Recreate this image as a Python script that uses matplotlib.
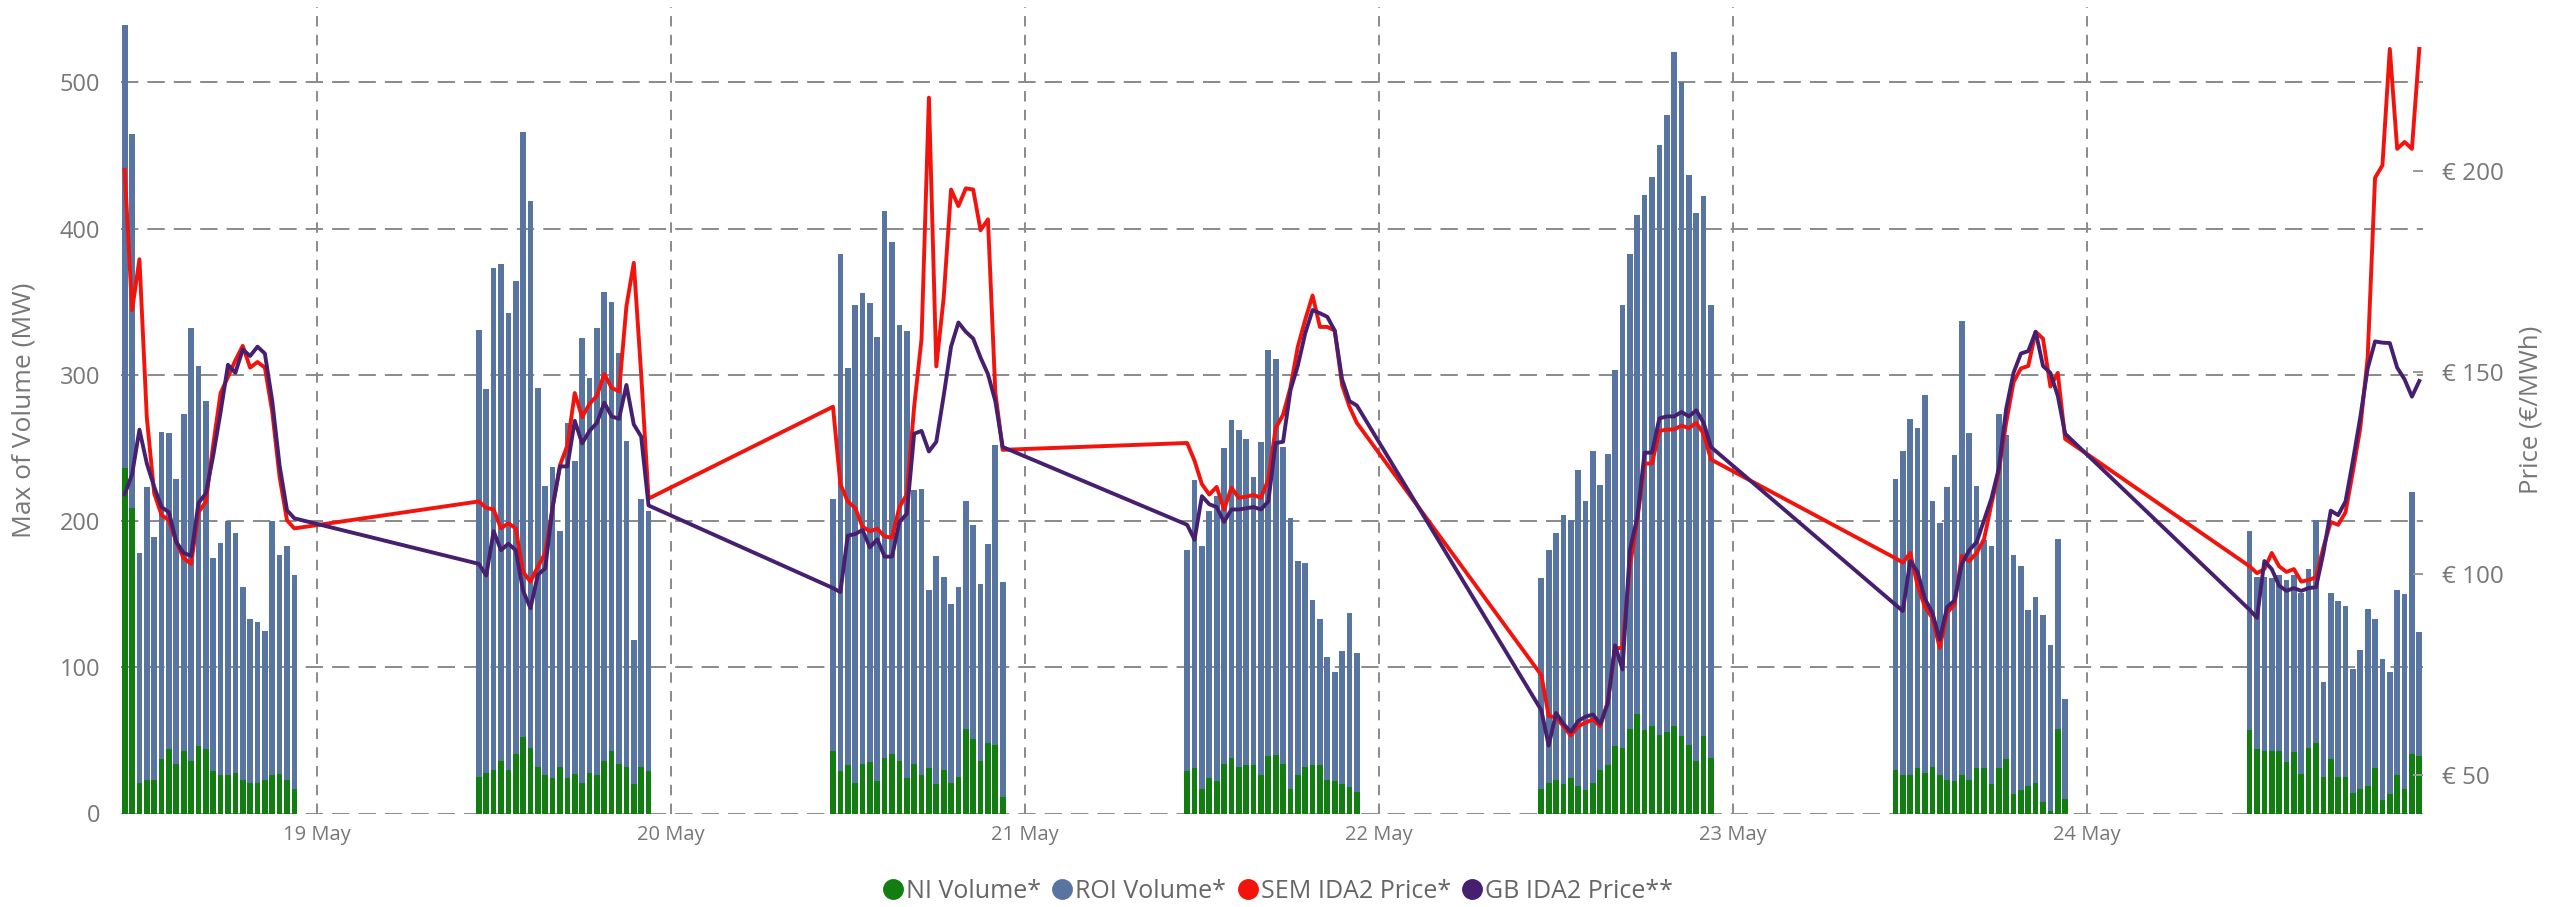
import matplotlib
matplotlib.use("Agg")
import matplotlib.pyplot as plt
import matplotlib.dates as mdates
from matplotlib.lines import Line2D
import numpy as np
import pandas as pd

plt.rcParams['lines.scale_dashes'] = False
plt.rcParams['font.family'] = ['Open Sans', 'DejaVu Sans']

# ---------------- data ----------------
days = ['2023-05-18', '2023-05-19', '2023-05-20', '2023-05-21',
        '2023-05-22', '2023-05-23', '2023-05-24']
session_start = '11:00'
periods_per_day = 24

ni_may18 = [236, 209, 21, 23, 23, 37, 44, 34, 43, 36, 46, 44, 29, 26, 26, 28, 23, 21, 21, 23, 26, 27, 23, 17]
ni_may19 = [25, 28, 30, 36, 30, 41, 52, 45, 32, 26, 24, 32, 24, 27, 21, 28, 26, 36, 43, 34, 32, 20, 32, 29]
ni_may20 = [43, 29, 33, 21, 34, 35, 22, 38, 41, 36, 24, 34, 26, 31, 20, 30, 21, 25, 58, 51, 36, 48, 47, 11]
ni_may21 = [29, 31, 17, 24, 22, 34, 38, 32, 33, 33, 26, 39, 40, 34, 17, 26, 32, 33, 33, 23, 22, 20, 18, 15]
ni_may22 = [17, 21, 23, 20, 24, 19, 16, 21, 30, 33, 46, 45, 58, 68, 57, 60, 54, 56, 60, 53, 47, 36, 53, 38]
ni_may23 = [30, 26, 26, 31, 28, 32, 26, 23, 22, 26, 23, 31, 31, 20, 31, 37, 13, 16, 19, 21, 8, 2, 58, 10]
ni_may24 = [57, 44, 43, 43, 43, 35, 42, 27, 45, 48, 25, 37, 25, 25, 14, 17, 19, 31, 9, 13, 26, 17, 41, 39]

roi_may18 = [303, 256, 157, 200, 166, 224, 216, 195, 230, 296, 260, 238, 146, 159, 174, 164, 132, 112, 110, 102, 174, 150, 160, 146]
roi_may19 = [306, 262, 343, 340, 312, 323, 414, 374, 259, 198, 213, 161, 243, 214, 304, 270, 306, 321, 307, 281, 223, 99, 183, 178]
roi_may20 = [172, 354, 272, 327, 322, 314, 304, 374, 350, 298, 306, 187, 196, 122, 156, 132, 122, 130, 156, 146, 121, 136, 205, 147]
roi_may21 = [151, 197, 166, 183, 195, 216, 231, 230, 223, 197, 228, 278, 271, 217, 185, 147, 139, 113, 100, 84, 75, 91, 119, 95]
roi_may22 = [144, 159, 169, 184, 177, 216, 198, 227, 195, 213, 257, 303, 325, 341, 366, 375, 403, 422, 461, 447, 390, 375, 369, 310]
roi_may23 = [199, 222, 244, 233, 258, 182, 173, 200, 223, 311, 237, 193, 156, 163, 242, 222, 164, 153, 120, 127, 128, 113, 130, 68]
roi_may24 = [136, 118, 119, 118, 120, 125, 121, 124, 122, 153, 65, 114, 120, 117, 85, 95, 121, 102, 97, 84, 127, 133, 179, 85]

sem_may18 = [200.2, 165.4, 178.0, 138.7, 119.9, 114.5, 113.2, 107.8, 103.8, 102.4, 115.2, 117.8, 132.0, 144.8, 148.8, 152.9, 156.5, 151.1, 152.5, 151.1, 140.1, 123.9, 113.2, 111.2]
sem_may19 = [117.9, 116.3, 115.9, 111.2, 112.5, 111.2, 100.4, 98.0, 101.7, 105.1, 116.5, 126.9, 131.8, 144.8, 138.8, 142.1, 144.1, 149.5, 146.1, 145.2, 166.3, 177.1, 149.5, 118.6]
sem_may20 = [141.4, 122.2, 117.9, 116.3, 111.6, 110.5, 111.1, 109.2, 108.9, 116.5, 119.6, 141.4, 158.2, 218.1, 151.4, 168.4, 195.3, 191.2, 195.6, 195.3, 185.2, 187.9, 145.0, 130.7]
sem_may21 = [132.4, 128.0, 122.2, 119.6, 121.5, 115.9, 121.3, 118.8, 119.1, 119.5, 118.8, 123.3, 136.1, 139.4, 146.2, 156.3, 163.0, 169.0, 161.2, 161.2, 160.3, 146.8, 141.4, 137.4]
sem_may22 = [74.8, 64.7, 64.3, 62.1, 59.8, 62.1, 63.0, 63.8, 62.1, 68.1, 81.5, 81.5, 101.7, 113.2, 127.3, 127.3, 135.4, 135.7, 135.8, 136.7, 136.1, 137.4, 134.7, 128.3]
sem_may23 = [103.8, 102.7, 105.1, 97.0, 91.7, 89.0, 81.6, 90.3, 92.3, 104.4, 103.1, 105.1, 108.5, 117.2, 125.3, 137.4, 147.5, 150.9, 151.5, 160.0, 158.3, 146.4, 149.8, 133.4]
sem_may24 = [101.8, 100.1, 101.1, 105.1, 101.8, 100.4, 101.1, 98.0, 98.4, 99.1, 106.5, 112.8, 112.1, 115.2, 125.3, 136.1, 153.6, 198.2, 201.3, 230.2, 205.4, 207.1, 205.4, 230.2]

gb_may18 = [119.7, 124.6, 135.7, 127.3, 121.5, 116.5, 115.2, 107.8, 105.1, 104.4, 117.5, 119.9, 129.3, 140.1, 151.8, 149.8, 155.6, 154.0, 156.3, 154.6, 142.8, 126.7, 115.7, 113.7]
gb_may19 = [102.4, 99.5, 110.5, 105.8, 107.4, 105.8, 95.7, 91.4, 99.7, 101.3, 116.5, 126.6, 126.6, 137.9, 132.3, 135.4, 137.4, 142.4, 139.0, 138.4, 146.8, 137.0, 134.0, 116.9]
gb_may20 = [96.4, 95.4, 109.4, 109.8, 110.8, 106.5, 108.5, 104.2, 104.2, 112.8, 114.8, 134.7, 135.4, 130.3, 132.7, 144.1, 156.3, 162.3, 160.0, 158.3, 153.6, 149.5, 142.8, 131.4]
gb_may21 = [112.1, 108.4, 119.2, 117.2, 116.5, 112.8, 115.9, 115.9, 116.2, 116.5, 115.9, 117.9, 132.4, 132.7, 145.5, 151.6, 159.6, 165.4, 164.6, 163.7, 160.3, 148.2, 142.8, 141.7]
gb_may22 = [66.1, 57.3, 65.4, 62.7, 60.7, 63.4, 64.5, 65.0, 62.7, 67.7, 82.2, 76.2, 105.8, 113.9, 130.0, 130.0, 138.5, 139.0, 139.0, 140.1, 139.0, 140.5, 137.4, 131.4]
gb_may23 = [92.3, 90.7, 103.1, 100.4, 93.7, 90.3, 83.6, 91.7, 93.3, 102.4, 105.8, 107.8, 113.2, 118.6, 126.0, 140.8, 149.8, 154.6, 155.2, 160.0, 151.5, 149.8, 144.1, 134.7]
gb_may24 = [91.0, 89.0, 103.1, 101.1, 97.0, 95.7, 96.4, 95.7, 96.4, 96.6, 105.1, 115.6, 114.5, 117.9, 128.0, 138.8, 150.9, 157.6, 157.3, 157.2, 151.1, 148.2, 143.9, 147.8]

volume_ticks = [0, 100, 200, 300, 400, 500]
price_ticks = [50, 100, 150, 200]
price_tick_labels = ['€ 50', '€ 100', '€ 150', '€ 200']
legend_labels = ['NI Volume*', 'ROI Volume*', 'SEM IDA2 Price*', 'GB IDA2 Price**']

ni = np.concatenate([ni_may18, ni_may19, ni_may20, ni_may21, ni_may22, ni_may23, ni_may24])
roi = np.concatenate([roi_may18, roi_may19, roi_may20, roi_may21, roi_may22, roi_may23, roi_may24])
sem = np.concatenate([sem_may18, sem_may19, sem_may20, sem_may21, sem_may22, sem_may23, sem_may24])
gb = np.concatenate([gb_may18, gb_may19, gb_may20, gb_may21, gb_may22, gb_may23, gb_may24])

times = pd.DatetimeIndex(np.concatenate(
    [pd.date_range(f'{d} {session_start}', periods=periods_per_day, freq='30min').values for d in days]))
x = mdates.date2num(times)

# ---------------- style ----------------
C_NI = '#127E12'
C_ROI = '#5874A0'
C_SEM = '#F2130D'
C_GB = '#46206E'
C_TXT = '#777777'
C_GRID = '#8A8A8A'

W, H = 2565, 907
fig = plt.figure(figsize=(W / 100, H / 100), dpi=100)
left, right, top, bottom = 121, 2423, 7, 813.5
ax = fig.add_axes([left / W, (H - bottom) / H, (right - left) / W, (bottom - top) / H])

bar_w = 0.77 / 48
ax.bar(x, ni, width=bar_w, color=C_NI, linewidth=0, zorder=2)
ax.bar(x, roi, bottom=ni, width=bar_w, color=C_ROI, linewidth=0, zorder=2)

ax.set_xlim(mdates.date2num(pd.Timestamp('2023-05-18 10:45')),
            mdates.date2num(pd.Timestamp('2023-05-24 22:45')))
ax.set_ylim(0, 551.6)
ax.set_yticks(volume_ticks)
ax.xaxis.set_major_locator(mdates.DayLocator())
ax.xaxis.set_major_formatter(mdates.DateFormatter('%d %b'))

ax.set_axisbelow(True)
ax.grid(axis='y', color=C_GRID, lw=1.4, linestyle=(0, (12.5, 6.5)))
ax.grid(axis='x', color=C_GRID, lw=1.4, linestyle=(0, (7.5, 6)))
for s in ax.spines.values():
    s.set_visible(False)
ax.tick_params(axis='both', length=0, labelcolor=C_TXT)
ax.tick_params(axis='y', labelsize=17, pad=15)
ax.tick_params(axis='x', labelsize=14.5, pad=8)

ax2 = ax.twinx()
ax2.plot(x, sem, color=C_SEM, lw=2.8, solid_joinstyle='round', zorder=3)
ax2.plot(x, gb, color=C_GB, lw=2.8, solid_joinstyle='round', zorder=4)
ax2.set_ylim(40.45, 240.6)
ax2.set_yticks(price_ticks)
ax2.set_yticklabels(price_tick_labels)
for s in ax2.spines.values():
    s.set_visible(False)
ax2.tick_params(axis='y', direction='in', length=7, width=1.4, color='#999999',
                labelcolor=C_TXT, labelsize=17.5, pad=14)

fig.text(24 / W, (H - 410) / H, 'Max of Volume (MW)', rotation=90, ha='center', va='center',
         color=C_TXT, fontsize=19)
fig.text(2531 / W, (H - 410) / H, 'Price (€/MWh)', rotation=90, ha='center', va='center',
         color=C_TXT, fontsize=18.5)

handles = [Line2D([], [], marker='o', ls='none', markersize=14, markerfacecolor=c, markeredgecolor=c)
           for c in (C_NI, C_ROI, C_SEM, C_GB)]
fig.legend(handles, legend_labels, loc='center', bbox_to_anchor=(1278 / W, (H - 891) / H), ncol=4,
           frameon=False, fontsize=18, labelcolor='#666666', handlelength=0.8, handletextpad=0.12,
           columnspacing=0.45, borderpad=0, borderaxespad=0)

fig.savefig('out.png', dpi=100)
